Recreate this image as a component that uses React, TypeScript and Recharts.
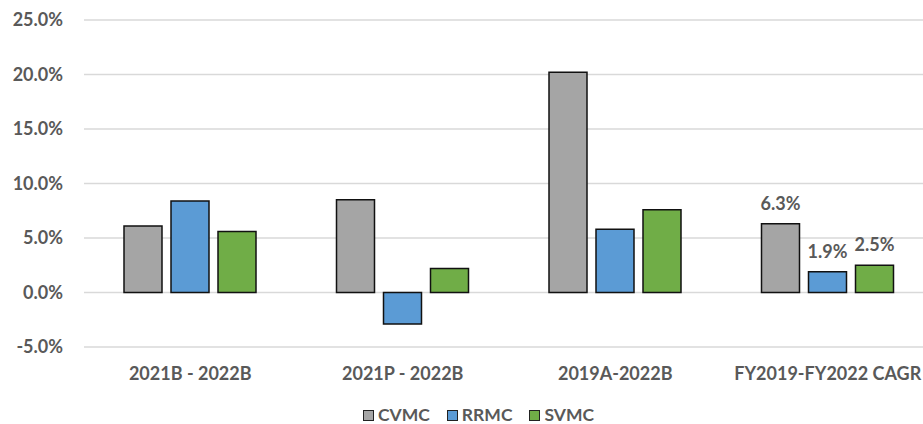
import { BarChart, Bar, XAxis, YAxis, CartesianGrid, Legend } from "recharts";

// growth comparison by period, values in percent
const categories = ["2021B - 2022B", "2021P - 2022B", "2019A-2022B", "FY2019-FY2022 CAGR"];
const cvmc = [6.1, 8.5, 20.2, 6.3];
const rrmc = [8.4, -2.9, 5.8, 1.9];
const svmc = [5.6, 2.2, 7.6, 2.5];
const yTicks = [-5, 0, 5, 10, 15, 20, 25];

const seriesInfo = [
  { key: "CVMC", color: "#a5a5a5" },
  { key: "RRMC", color: "#5b9bd5" },
  { key: "SVMC", color: "#70ad47" },
];

const data = categories.map((name, i) => ({
  name,
  CVMC: cvmc[i],
  RRMC: rrmc[i],
  SVMC: svmc[i],
}));

const FONT = "Lato, 'Open Sans', sans-serif";
const TEXT = "#595959";

// only the CAGR group carries value labels
const cagrLabel = (props: any) => {
  const { x, y, width, value, index } = props;
  if (index !== 3) return null;
  return (
    <text
      x={x + width / 2}
      y={y - 14}
      textAnchor="middle"
      fontFamily={FONT}
      fontWeight={700}
      fontSize={18}
      fill={TEXT}
    >
      {Number(value).toFixed(1)}%
    </text>
  );
};

function LegendBox() {
  return (
    <div style={{ display: "flex", alignItems: "center", height: 14, fontFamily: FONT, fontWeight: 700, fontSize: 17.5, color: TEXT }}>
      {seriesInfo.map((s) => (
        <div key={s.key} style={{ display: "flex", alignItems: "center", marginRight: 17 }}>
          <span style={{ display: "inline-block", width: 9, height: 9, background: s.color, border: "1.5px solid #222", marginRight: 4 }} />
          <span style={{ lineHeight: "14px" }}>{s.key}</span>
        </div>
      ))}
    </div>
  );
}

export default function App() {
  return (
    <div style={{ position: "absolute", left: 0, top: 0, width: 923, height: 424, overflow: "hidden", background: "#fff" }}>
      <BarChart
        width={936}
        height={424}
        data={data}
        margin={{ top: 20, right: 2, bottom: 0, left: 0 }}
        barSize={38}
        barGap={9}
      >
        <CartesianGrid vertical={false} stroke="#d9d9d9" strokeWidth={1.5} />
        <XAxis
          dataKey="name"
          axisLine={false}
          tickLine={false}
          tickSize={0}
          tickMargin={20}
          height={63}
          interval={0}
          tick={{ fontFamily: FONT, fontWeight: 700, fontSize: 18, fill: TEXT }}
        />
        <YAxis
          domain={[-5, 25]}
          ticks={yTicks}
          width={84}
          axisLine={false}
          tickLine={false}
          tickSize={0}
          tickMargin={21}
          tickFormatter={(v: number) => v.toFixed(1) + "%"}
          tick={{ fontFamily: FONT, fontWeight: 700, fontSize: 18, fill: TEXT }}
        />
        <Legend
          verticalAlign="bottom"
          content={() => <LegendBox />}
          wrapperStyle={{ left: 363, top: 408, width: 320, bottom: "auto" }}
        />
        {seriesInfo.map((s) => (
          <Bar
            key={s.key}
            dataKey={s.key}
            fill={s.color}
            stroke="#111"
            strokeWidth={1.5}
            isAnimationActive={false}
            label={cagrLabel}
          />
        ))}
      </BarChart>
    </div>
  );
}
